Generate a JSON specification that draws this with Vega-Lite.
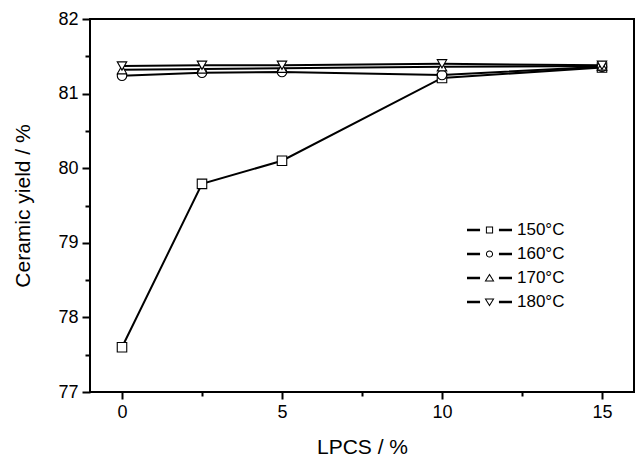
{
  "$schema": "https://vega.github.io/schema/vega-lite/v6.json",
  "width": 544,
  "height": 373,
  "autosize": {"type": "none"},
  "padding": {"left": 90, "top": 19, "right": 3, "bottom": 64},
  "data": {
    "values": [
      {"x": 0, "y": 77.6, "s": "150°C"},
      {"x": 2.5, "y": 79.79, "s": "150°C"},
      {"x": 5, "y": 80.1, "s": "150°C"},
      {"x": 10, "y": 81.21, "s": "150°C"},
      {"x": 15, "y": 81.35, "s": "150°C"},
      {"x": 0, "y": 81.24, "s": "160°C"},
      {"x": 2.5, "y": 81.28, "s": "160°C"},
      {"x": 5, "y": 81.29, "s": "160°C"},
      {"x": 10, "y": 81.25, "s": "160°C"},
      {"x": 15, "y": 81.36, "s": "160°C"},
      {"x": 0, "y": 81.32, "s": "170°C"},
      {"x": 2.5, "y": 81.33, "s": "170°C"},
      {"x": 5, "y": 81.34, "s": "170°C"},
      {"x": 10, "y": 81.36, "s": "170°C"},
      {"x": 15, "y": 81.37, "s": "170°C"},
      {"x": 0, "y": 81.37, "s": "180°C"},
      {"x": 2.5, "y": 81.38, "s": "180°C"},
      {"x": 5, "y": 81.38, "s": "180°C"},
      {"x": 10, "y": 81.4, "s": "180°C"},
      {"x": 15, "y": 81.38, "s": "180°C"}
    ]
  },
  "layer": [
    {
      "mark": {"type": "line", "color": "black", "strokeWidth": 2},
      "encoding": {
        "x": {
          "field": "x", "type": "quantitative",
          "scale": {"domain": [-1, 16], "nice": false, "zero": false},
          "axis": {
            "title": null,
            "values": [0, 5, 10, 15],
            "grid": false,
            "labels": false,
            "domain": false,
            "tickSize": 7,
            "tickWidth": 2,
            "tickColor": "black"
          }
        },
        "y": {
          "field": "y", "type": "quantitative",
          "scale": {"domain": [77, 82], "nice": false, "zero": false},
          "axis": {
            "title": null,
            "values": [77, 78, 79, 80, 81, 82],
            "grid": false,
            "labels": false,
            "domain": false,
            "tickSize": 8,
            "tickWidth": 2,
            "tickColor": "black"
          }
        },
        "detail": {"field": "s", "type": "nominal"}
      }
    },
    {
      "mark": {"type": "point", "filled": true, "fill": "white", "stroke": "black", "strokeWidth": 1.1, "size": 90, "opacity": 1},
      "encoding": {
        "x": {
          "field": "x", "type": "quantitative",
          "scale": {"domain": [-1, 16], "nice": false, "zero": false},
          "axis": {
            "orient": "bottom",
            "title": null,
            "values": [2.5, 7.5, 12.5],
            "grid": false,
            "labels": false,
            "domain": false,
            "tickSize": 4,
            "tickWidth": 2,
            "tickColor": "black"
          }
        },
        "y": {
          "field": "y", "type": "quantitative",
          "scale": {"domain": [77, 82], "nice": false, "zero": false},
          "axis": {
            "orient": "left",
            "title": null,
            "values": [77.5, 78.5, 79.5, 80.5, 81.5],
            "grid": false,
            "labels": false,
            "domain": false,
            "tickSize": 5,
            "tickWidth": 2,
            "tickColor": "black"
          }
        },
        "shape": {
          "field": "s", "type": "nominal",
          "scale": {"domain": ["150°C", "160°C", "170°C", "180°C"], "range": ["square", "circle", "triangle-up", "triangle-down"]},
          "legend": null
        }
      }
    },
    {
      "transform": [{"filter": "datum.x > 100"}],
      "mark": {"type": "point", "filled": true, "color": "black", "strokeWidth": 0, "opacity": 1},
      "encoding": {
        "x": {
          "field": "x", "type": "quantitative",
          "scale": {"domain": [-1, 16], "nice": false, "zero": false},
          "axis": {
            "orient": "bottom",
            "title": "LPCS / %",
            "values": [0, 5, 10, 15],
            "format": "d",
            "grid": false,
            "ticks": false,
            "domain": false,
            "labelPadding": 11,
            "titlePadding": 15
          }
        },
        "y": {
          "field": "y", "type": "quantitative",
          "scale": {"domain": [77, 82], "nice": false, "zero": false},
          "axis": {
            "orient": "left",
            "title": "Ceramic yield / %",
            "values": [77, 78, 79, 80, 81, 82],
            "format": "d",
            "grid": false,
            "ticks": false,
            "domain": false,
            "labelPadding": 12,
            "titlePadding": 24
          }
        },
        "shape": {
          "field": "s", "type": "nominal",
          "scale": {
            "domain": ["150°C", "160°C", "170°C", "180°C"],
            "range": [
              "M-1,-0.055H-0.42V0.055H-1Z M0.42,-0.055H1V0.055H0.42Z M-0.16,-0.16H0.16V0.16H-0.16Z M-0.115,-0.115V0.115H0.115V-0.115Z",
              "M-1,-0.055H-0.42V0.055H-1Z M0.42,-0.055H1V0.055H0.42Z M-0.16,0A0.16,0.16 0 1,1 0.16,0A0.16,0.16 0 1,1 -0.16,0Z M-0.115,0A0.115,0.115 0 1,0 0.115,0A0.115,0.115 0 1,0 -0.115,0Z",
              "M-1,-0.055H-0.42V0.055H-1Z M0.42,-0.055H1V0.055H0.42Z M0,-0.2L0.22,0.16L-0.22,0.16Z M0,-0.114L-0.14,0.115L0.14,0.115Z",
              "M-1,-0.055H-0.42V0.055H-1Z M0.42,-0.055H1V0.055H0.42Z M0,0.2L-0.22,-0.16L0.22,-0.16Z M0,0.114L0.14,-0.115L-0.14,-0.115Z"
            ]
          },
          "legend": {
            "title": null,
            "orient": "none",
            "legendX": 377,
            "legendY": 200,
            "symbolSize": 2025,
            "symbolStrokeWidth": 0,
            "clipHeight": 22,
            "rowPadding": 2,
            "padding": 0,
            "labelOffset": 5,
            "labelFont": "Liberation Sans",
            "labelFontSize": 17,
            "labelColor": "black"
          }
        }
      }
    }
  ],
  "resolve": {
    "scale": {"shape": "independent"},
    "legend": {"shape": "independent"},
    "axis": {"x": "independent", "y": "independent"}
  },
  "config": {
    "view": {"stroke": "black", "strokeWidth": 2},
    "axis": {
      "labelFont": "Liberation Sans",
      "labelFontSize": 18,
      "labelColor": "black",
      "titleFont": "Liberation Sans",
      "titleFontSize": 21,
      "titleFontWeight": "normal",
      "titleColor": "black"
    }
  }
}
